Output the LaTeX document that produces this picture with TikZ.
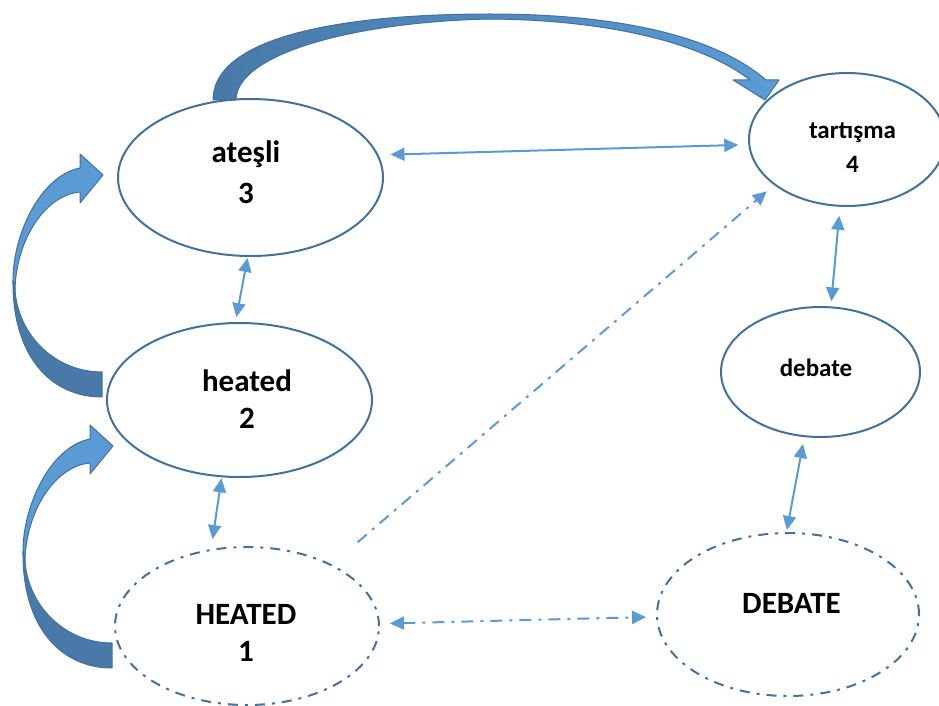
\documentclass[tikz,border=0pt]{standalone}
\usepackage{fontspec}
\setmainfont{Carlito}
\usetikzlibrary{arrows.meta,shapes.geometric}
\definecolor{edgeblue}{RGB}{65,113,156}
\definecolor{linkblue}{RGB}{91,155,213}
\definecolor{darkband}{RGB}{72,121,168}
\begin{document}
\begin{tikzpicture}[x=1pt,y=-1pt,
  >={Triangle[length=14pt,width=13pt]},
  ell/.style={ellipse, draw=edgeblue, line width=2pt, inner sep=0pt},
  dell/.style={ell, dash pattern=on 10pt off 7pt on 3pt off 7pt},
  lnk/.style={draw=linkblue, line width=2pt},
  dlnk/.style={lnk, dash pattern=on 12pt off 7pt on 3pt off 7pt},
  big/.style={font=\bfseries\fontsize{31}{37}\selectfont, align=center, inner sep=0pt},
  small/.style={font=\bfseries\fontsize{25}{34}\selectfont, align=center, inner sep=0pt},
  block/.style={draw=edgeblue, line width=1pt, line join=round},
  curvarrow/.pic={
    \path[block, fill=darkband] (13,280) .. controls (12,355) and (50,397) .. (102,397)
      -- (102,372) .. controls (55,372) and (18,335) .. (15,290) -- cycle;
    \path[block, fill=linkblue] (13,280) .. controls (13,235) and (40,176) .. (80,168)
      -- (80,154) -- (103,175) -- (80,203) -- (80,192)
      .. controls (45,195) and (16,240) .. (15,290) -- cycle;
  }
]
\useasboundingbox (0,0) rectangle (939,706);
\clip (0,0) rectangle (939,706);

% ellipses
\node[ell,  minimum width=265pt, minimum height=157pt] (e3) at (250.5,177.5) {};
\node[ell,  minimum width=265pt, minimum height=154pt] (e2) at (239.5,400) {};
\node[dell, minimum width=264pt, minimum height=158pt] (e1) at (247,626) {};
\node[ell,  minimum width=196pt, minimum height=133pt] (e4) at (847,139.5) {};
\node[ell,  minimum width=199pt, minimum height=130pt] (e5) at (820.5,372) {};
\node[dell, minimum width=262pt, minimum height=163pt] (e6) at (788,614.5) {};

% texts
\node[big, font=\bfseries\fontsize{31}{41}\selectfont, anchor=south] (t3) at (246,204) {ateşli\\3};
\node[big, anchor=south] (t2) at (247,429) {heated\\2};
\node[big, anchor=south] (t1) at (246,662) {HEATED\\1};
\node[small, anchor=south] (t4) at (852.5,173) {tartışma\\4};
\node[small, anchor=base] (t5) at (816,376) {debate};
\node[big, anchor=base] (t6) at (791.5,613) {DEBATE};

% connectors
\draw[lnk,<->,shorten <=12pt,shorten >=10pt] (e3.10) -- (e4.183);
\draw[lnk,<->,shorten <=1pt,shorten >=5pt] (e3.-92) -- (e2.93);
\draw[lnk,<->,shorten <=1pt,shorten >=10pt] (e2.-103) -- (e1.115);
\draw[lnk,<->,shorten <=9pt,shorten >=5pt] (e4.-96) -- (e5.81);
\draw[lnk,<->,shorten <=7pt,shorten >=2pt] (e5.-104) -- (e6.91);
\draw[dlnk,<->,shorten <=10pt,shorten >=10pt] (e1.1) -- (e6.181);
\draw[dlnk,->,shorten <=34pt,shorten >=9.5pt] (e1.36) -- (e4.212);

% big curved block arrows
\path[block, left color=darkband, middle color=darkband, right color=linkblue]
  (213,100) .. controls (213,40) and (330,14) .. (490,14)
  .. controls (630,14) and (720,40) .. (766,80)
  -- (779,80) -- (765,100) -- (733,80) -- (750,80)
  .. controls (705,45) and (615,20) .. (490,19)
  .. controls (350,22) and (236,55) .. (236,100) -- cycle;
\pic at (0,0) {curvarrow};
\pic at (10,271) {curvarrow};
\end{tikzpicture}
\end{document}
